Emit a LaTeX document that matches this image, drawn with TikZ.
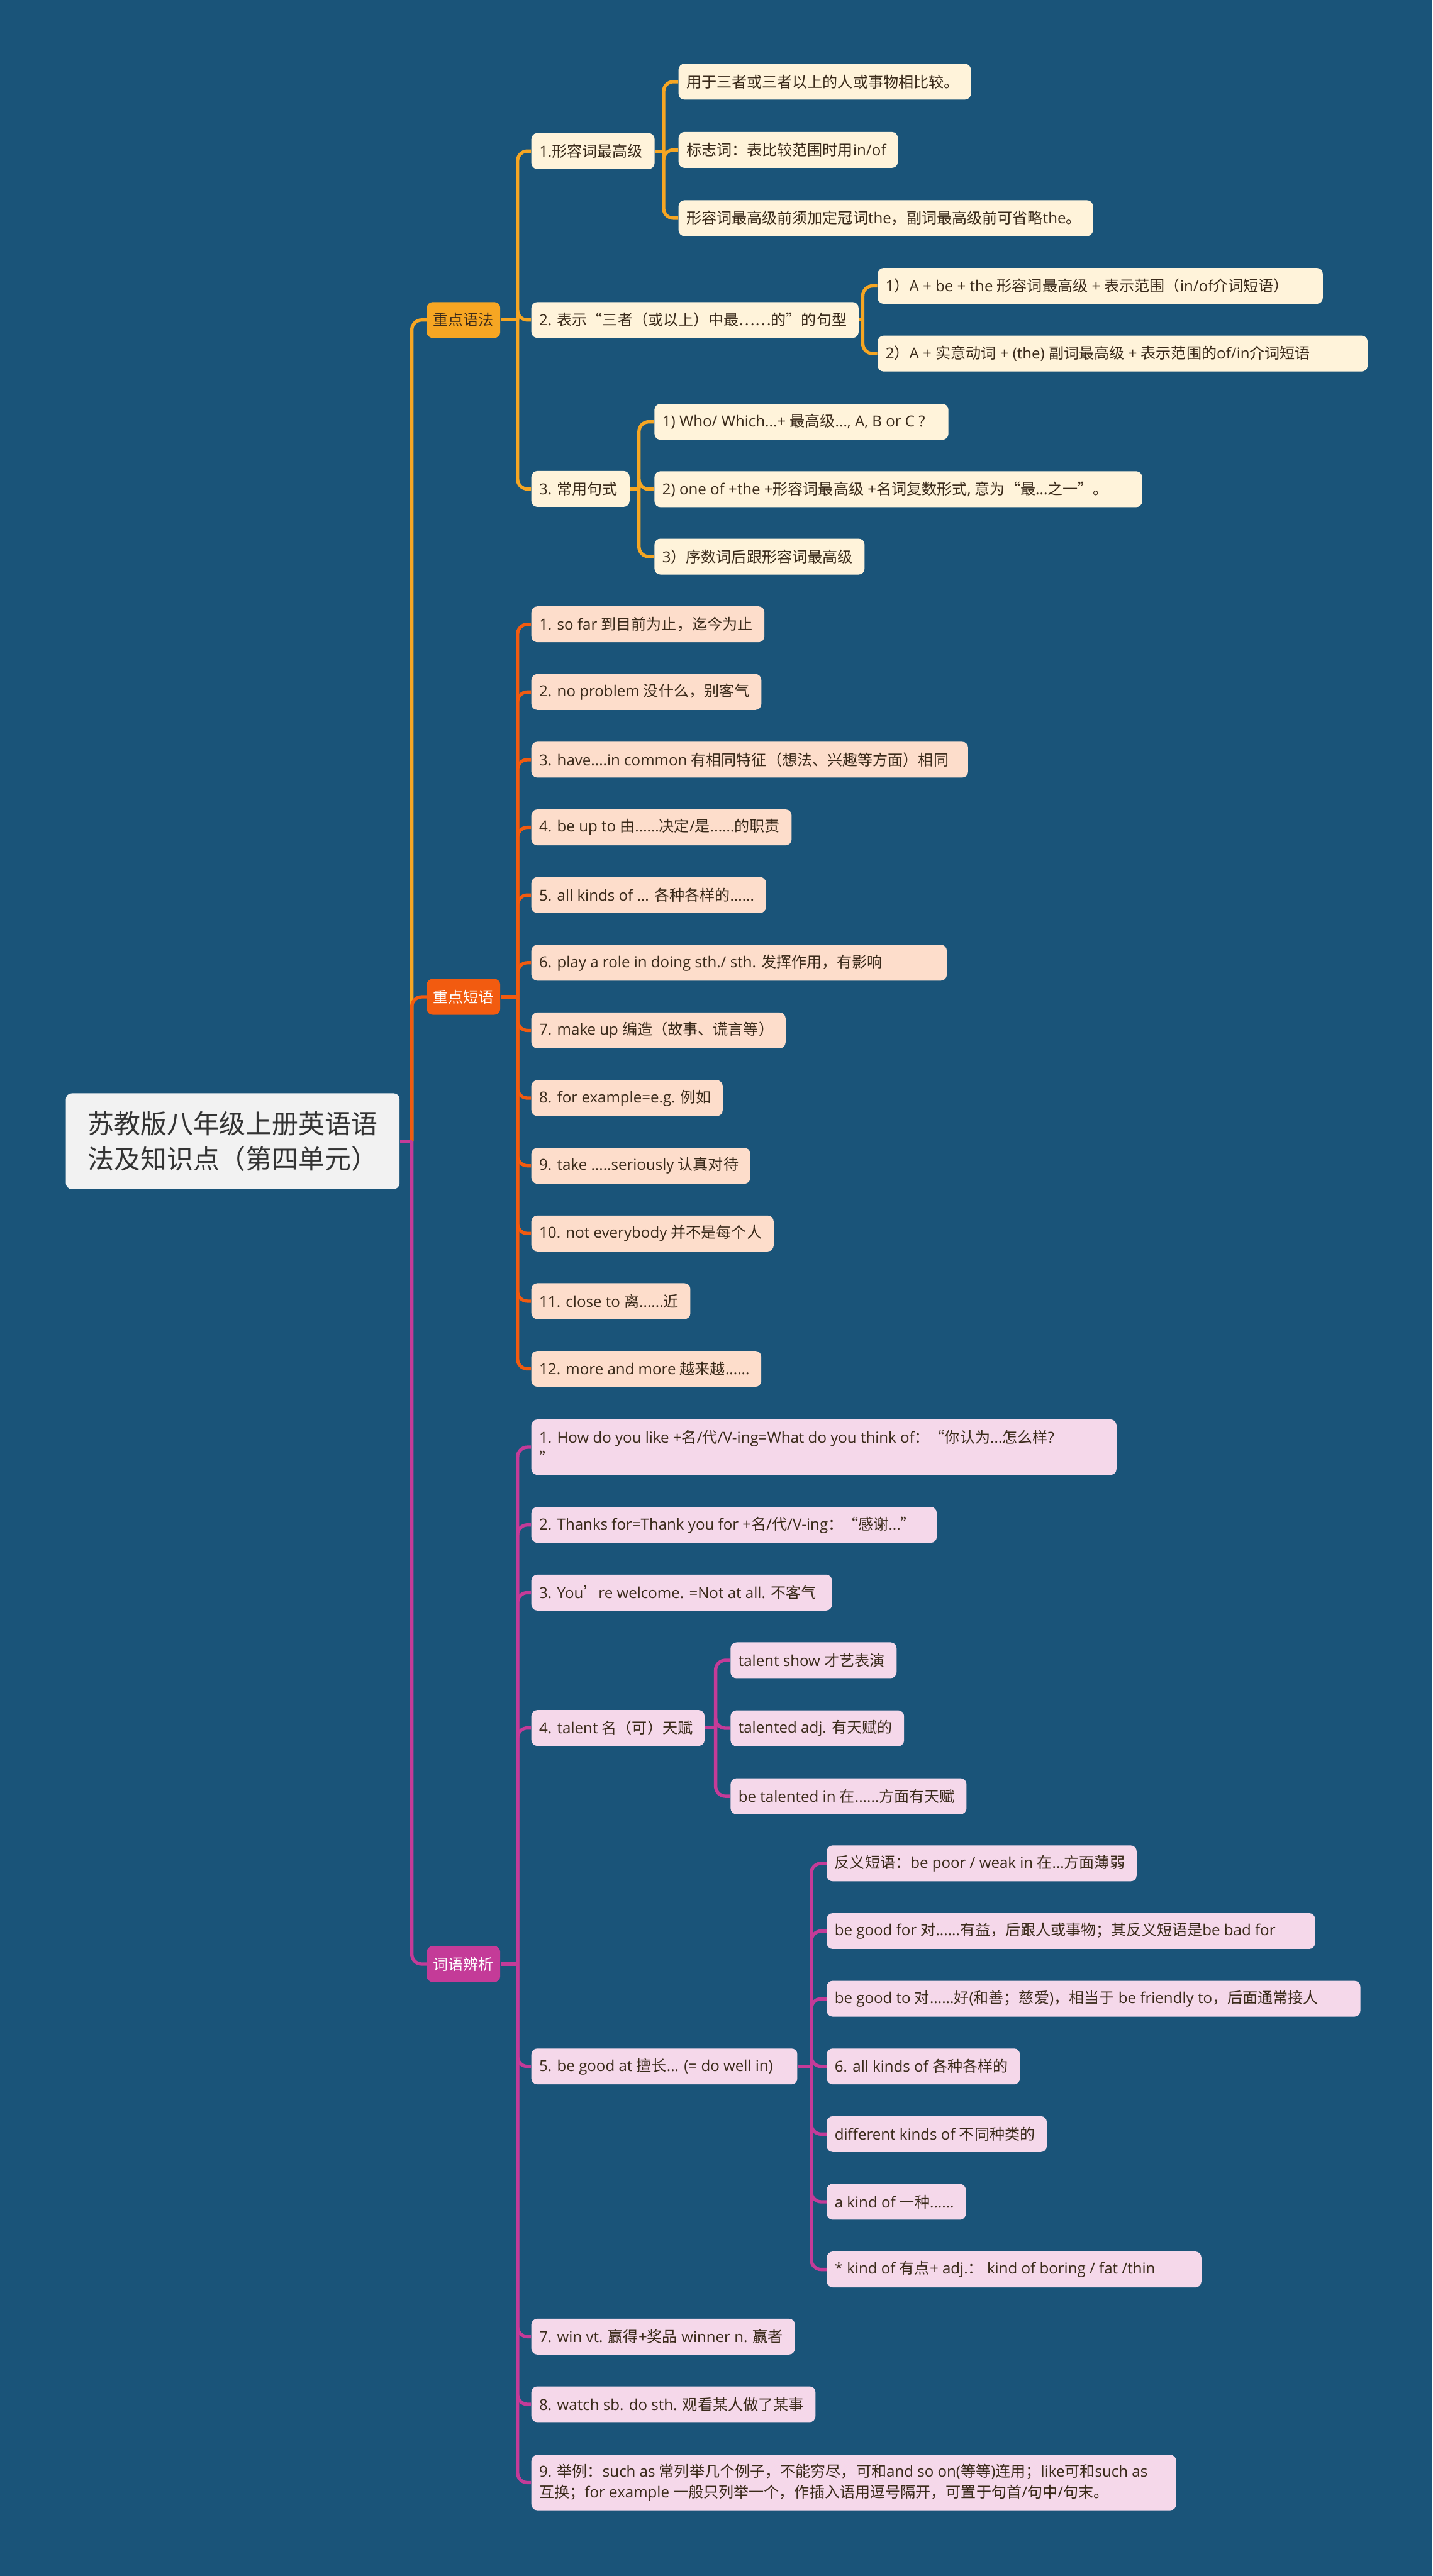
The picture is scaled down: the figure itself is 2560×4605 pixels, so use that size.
\documentclass[tikz,border=0pt]{standalone}
\usepackage{fontspec}
\setmainfont{Open Sans}
\newfontfamily\cjkfont{Noto Sans CJK SC}
\usepackage{tikz}

\makeatletter
\def\cjkrange#1#2{\count@=#1\relax
  \loop\XeTeXcharclass\count@=10 \ifnum\count@<#2\relax\advance\count@\@ne\repeat}
\cjkrange{"2E80}{"9FFF}
\cjkrange{"FF00}{"FFEF}
\cjkrange{"2018}{"201F}
\cjkrange{"2026}{"2026}
\makeatother
\XeTeXinterchartokenstate=1
\XeTeXinterchartoks 0 10 = {\cjkfont}
\XeTeXinterchartoks 4095 10 = {\cjkfont}
\XeTeXinterchartoks 10 0 = {\rmfamily}
\XeTeXinterchartoks 10 4095 = {\rmfamily}

\definecolor{bgblue}{HTML}{1A5479}
\definecolor{rootgray}{HTML}{F2F2F2}
\definecolor{gorange}{HTML}{F6A623}
\definecolor{cream}{HTML}{FFF3DA}
\definecolor{porange}{HTML}{F25B10}
\definecolor{peach}{HTML}{FDDDCB}
\definecolor{wmagenta}{HTML}{C43B98}
\definecolor{pinkbox}{HTML}{F5D8EA}
\definecolor{darktext}{HTML}{3A2A1A}

\newcommand\itemsize{\fontsize{7.7}{10.6}\selectfont}
\newcommand\rootsize{\fontsize{13.4}{17.8}\selectfont}
\newcommand\dotsthree{...}

\begin{document}
\begin{tikzpicture}[x=0.01cm,y=-0.01cm,
    box/.style={anchor=west,rounded corners=3pt,inner xsep=0.14cm,inner ysep=0pt,
      minimum height=0.64cm,font=\itemsize,text=darktext},
    leaf/.style={box,execute at end node={\hspace{0.07cm}}},
    wide/.style={execute at begin node={\hbox to #1\bgroup},execute at end node={\hfil\egroup}},
    gbox/.style={leaf,fill=cream},
    pbox/.style={leaf,fill=peach},
    wbox/.style={leaf,fill=pinkbox},
    topic/.style={box,inner xsep=0.115cm,text=white},
    link/.style={line width=1.7pt,rounded corners=5pt},
    glink/.style={link,draw=gorange},
    plink/.style={link,draw=porange},
    wlink/.style={link,draw=wmagenta},
    gramBw1/.style={wide=7.67cm},gramBw2/.style={wide=8.47cm},
    gramCw1/.style={wide=4.97cm},gramCw2/.style={wide=8.43cm},
    phrw3/.style={wide=7.52cm},phrw6/.style={wide=7.14cm},
    wordBw2/.style={wide=8.44cm},wordBw3/.style={wide=9.25cm},
    wordBw7/.style={wide=6.41cm}]
\fill[bgblue] (0,0) rectangle (2560,4605);

\node[box,fill=rootgray,text=black!80,font=\rootsize,align=left,inner xsep=0.39cm,minimum height=1.71cm] (root) at (117,2040) {苏教版八年级上册英语语\\法及知识点（第四单元）};

\node[topic,fill=gorange,text=darktext] (gram) at (762,572) {重点语法};
\node[topic,fill=porange] (phr) at (762,1782) {重点短语};
\node[topic,fill=wmagenta] (word) at (762,3511) {词语辨析};

\coordinate (rootfork) at (736,2040);
\draw[glink] (rootfork) |- (gram.west);
\draw[plink] (rootfork) |- (phr.west);
\draw[wlink] (rootfork) |- (word.west);
\draw[wlink] (root.east) -- (rootfork);

% 重点语法
\node[gbox] (gram1) at (949,270) {1.形容词最高级};
\node[gbox] (gram2) at (949,572) {2. 表示“三者（或以上）中最……的”的句型};
\node[gbox] (gram3) at (949,874) {3. 常用句式};
\coordinate (gramfork) at (925,572);
\draw[glink] (gram.east) -- (gramfork);
\foreach \q in {1,2,3} \draw[glink] (gramfork) |- (gram\q.west);

\coordinate (gramAfork) at (1186,270);
\draw[glink] (gram1.east) -- (gramAfork);
\foreach \p [count=\q, evaluate=\q as \r using 146+122*(\q-1)] in
    {{用于三者或三者以上的人或事物相比较。},{标志词：表比较范围时用in/of},
     {形容词最高级前须加定冠词the，副词最高级前可省略the。}} {
  \node[gbox] (gramA\q) at (1212,\r) {\p};
  \draw[glink] (gramAfork) |- (gramA\q.west);
}

\coordinate (gramBfork) at (1542,572);
\draw[glink] (gram2.east) -- (gramBfork);
\foreach \p [count=\q, evaluate=\q as \r using 511+121*(\q-1)] in
    {{1）A + be + the 形容词最高级 + 表示范围（in/of介词短语）},
     {2）A + 实意动词 + (the) 副词最高级 + 表示范围的of/in介词短语}} {
  \node[gbox,gramBw\q/.try] (gramB\q) at (1568,\r) {\p};
  \draw[glink] (gramBfork) |- (gramB\q.west);
}

\coordinate (gramCfork) at (1142,874);
\draw[glink] (gram3.east) -- (gramCfork);
\foreach \p [count=\q, evaluate=\q as \r using 754+120.5*(\q-1)] in
    {{1) Who/ Which\dotsthree+ 最高级\dotsthree, A, B or C ?},
     {2) one of +the +形容词最高级 +名词复数形式, 意为“最\dotsthree 之一”。},
     {3）序数词后跟形容词最高级}} {
  \node[gbox,gramCw\q/.try] (gramC\q) at (1169,\r) {\p};
  \draw[glink] (gramCfork) |- (gramC\q.west);
}

% 重点短语
\coordinate (phrfork) at (925,1782);
\draw[plink] (phr.east) -- (phrfork);
\foreach \p [count=\q, evaluate=\q as \r using 1116+121*(\q-1)] in
    {{1. so far 到目前为止，迄今为止},{2. no problem 没什么，别客气},
     {3. have\dotsthree.in common 有相同特征（想法、兴趣等方面）相同},
     {4. be up to 由\dotsthree\dotsthree 决定/是\dotsthree\dotsthree 的职责},
     {5. all kinds of \dotsthree{} 各种各样的\dotsthree\dotsthree},
     {6. play a role in doing sth./ sth. 发挥作用，有影响},{7. make up 编造（故事、谎言等）},
     {8. for example=e.g. 例如},{9. take \dotsthree..seriously 认真对待},
     {10. not everybody 并不是每个人},{11. close to 离\dotsthree\dotsthree 近},
     {12. more and more 越来越\dotsthree\dotsthree}} {
  \node[pbox,phrw\q/.try] (phr\q) at (949,\r) {\p};
  \draw[plink] (phrfork) |- (phr\q.west);
}

% 词语辨析
\node[wbox,align=left,minimum height=0.99cm] (word1) at (949,2587) {1. How do you like +名/代/V-ing=What do you think of：“你认为...怎么样?\hspace*{0.9cm}\\”};
\node[wbox,wide=6.96cm] (word2) at (949,2726) {2. Thanks for=Thank you for +名/代/V-ing：“感谢...”};
\node[wbox,wide=5.09cm] (word3) at (949,2847) {3. You’re welcome. =Not at all. 不客气};
\node[wbox] (word4) at (949,3089) {4. talent 名（可）天赋};
\node[wbox,wide=4.47cm] (word5) at (949,3694) {5. be good at 擅长... (= do well in)};
\node[wbox] (word7) at (949,4177) {7. win vt. 赢得+奖品 winner n. 赢者};
\node[wbox] (word8) at (949,4298) {8. watch sb. do sth. 观看某人做了某事};
\node[wbox,align=left,minimum height=0.99cm] (word9) at (949,4438) {9. 举例：such as 常列举几个例子，不能穷尽，可和and so on(等等)连用；like可和such as\hspace*{0.3cm}\\互换；for example 一般只列举一个，作插入语用逗号隔开，可置于句首/句中/句末。};
\coordinate (wordfork) at (925,3511);
\draw[wlink] (word.east) -- (wordfork);
\foreach \q in {1,2,3,4,5,7,8,9} \draw[wlink] (wordfork) |- (word\q.west);

\coordinate (wordAfork) at (1279,3089);
\draw[wlink] (word4.east) -- (wordAfork);
\foreach \p [count=\q, evaluate=\q as \r using 2968+121.5*(\q-1)] in
    {{talent show 才艺表演},{talented adj. 有天赋的},
     {be talented in 在\dotsthree\dotsthree 方面有天赋}} {
  \node[wbox] (wordA\q) at (1305,\r) {\p};
  \draw[wlink] (wordAfork) |- (wordA\q.west);
}

\coordinate (wordBfork) at (1450,3694);
\draw[wlink] (word5.east) -- (wordBfork);
\foreach \p [count=\q, evaluate=\q as \r using 3331+121*(\q-1)] in
    {{反义短语：be poor / weak in 在\dotsthree 方面薄弱},
     {be good for 对\dotsthree\dotsthree 有益，后跟人或事物；其反义短语是be bad for},
     {be good to 对\dotsthree\dotsthree 好(和善；慈爱)，相当于 be friendly to，后面通常接人},
     {6. all kinds of 各种各样的},{different kinds of 不同种类的},
     {a kind of 一种\dotsthree\dotsthree},{* kind of 有点+ adj.： kind of boring / fat /thin}} {
  \node[wbox,wordBw\q/.try] (wordB\q) at (1477,\r) {\p};
  \draw[wlink] (wordBfork) |- (wordB\q.west);
}
\end{tikzpicture}
\end{document}
